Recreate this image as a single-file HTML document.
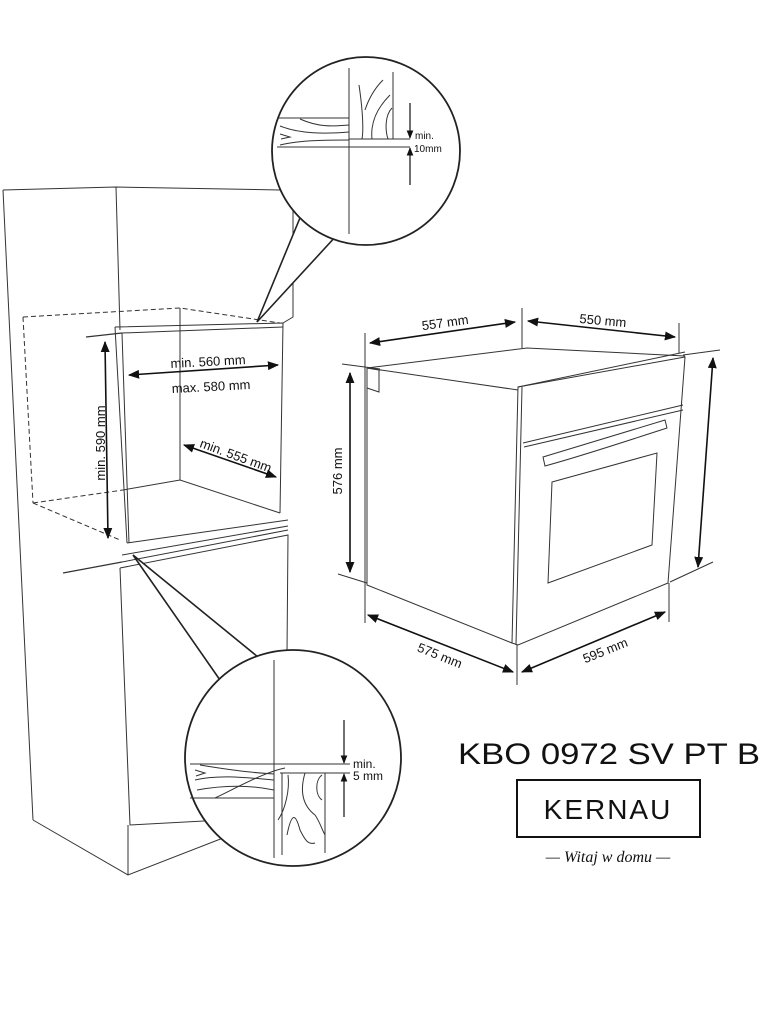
<!DOCTYPE html>
<html><head><meta charset="utf-8"><style>
html,body{margin:0;padding:0;background:#fff}
svg{display:block}
text{font-family:"Liberation Sans",sans-serif;fill:#111}
</style></head><body>
<svg width="762" height="1009" viewBox="0 0 762 1009" xmlns="http://www.w3.org/2000/svg">
<defs>
<marker id="a" viewBox="0 0 10 10" refX="9" refY="5" markerWidth="7" markerHeight="7" orient="auto-start-reverse"><path d="M0,1 L10,5 L0,9 z" fill="#111"/></marker>
</defs>
<g fill="none" stroke="#333" stroke-width="1">
<polyline points="3,190 116,187 280,190"/>
<line x1="3" y1="190" x2="33" y2="820"/>
<line x1="116" y1="187" x2="120" y2="330"/>
<polyline points="33,820 128,875 277,817"/>
<line x1="128" y1="875" x2="128" y2="825"/>
<polyline points="280,190 293,207 293,317 283,323"/>
<g stroke-dasharray="5,3">
<polyline points="23,317 180,308 280,323"/>
<line x1="23" y1="317" x2="33" y2="503"/>
<line x1="33" y1="503" x2="123" y2="490"/>
<line x1="33" y1="503" x2="120" y2="540"/>
</g>
<line x1="180" y1="308" x2="180" y2="480"/>
<polyline points="115,327 283,323 280,513"/>
<line x1="122" y1="333" x2="283" y2="327"/>
<line x1="115" y1="327" x2="127" y2="543"/>
<line x1="122" y1="333" x2="129" y2="543"/>
<polyline points="123,490 180,480 280,513"/>
<line x1="127" y1="543" x2="288" y2="520"/>
<line x1="122" y1="555" x2="288" y2="526"/>
<line x1="122" y1="562" x2="288" y2="530"/>
<polyline points="120,568 288,535 287,653"/>
<polyline points="120,568 130,825 277,817"/>
<line x1="63" y1="573" x2="122" y2="562" stroke-width="1.3"/>
<line x1="86" y1="337" x2="122" y2="333" stroke-width="1.3"/>
</g>
<g stroke="#111" stroke-width="1.6" fill="none">
<line x1="105" y1="342" x2="108" y2="538" marker-start="url(#a)" marker-end="url(#a)"/>
<line x1="129" y1="375" x2="278" y2="365" marker-start="url(#a)" marker-end="url(#a)"/>
<line x1="184" y1="445" x2="276" y2="477" marker-start="url(#a)" marker-end="url(#a)"/>
</g>
<text x="100" y="448" font-size="13" text-anchor="middle" transform="rotate(-90 100 443)">min. 590 mm</text>
<text x="208" y="366" font-size="13" text-anchor="middle" transform="rotate(-3 208 361)">min. 560 mm</text>
<text x="211" y="391" font-size="13" text-anchor="middle" transform="rotate(-3 211 386)">max. 580 mm</text>
<text x="236" y="460" font-size="13" text-anchor="middle" transform="rotate(20 236 455)">min. 555 mm</text>

<path d="M302,213 L257,322 L337,235" fill="#fff" stroke="#222" stroke-width="1.6"/>
<circle cx="366" cy="151" r="94" fill="#fff" stroke="#222" stroke-width="1.8"/>
<g fill="none" stroke="#333" stroke-width="1">
<line x1="349" y1="68" x2="349" y2="234"/>
<line x1="393" y1="72" x2="393" y2="139"/>
<line x1="349" y1="139" x2="410" y2="139"/>
<line x1="277" y1="147" x2="410" y2="147"/>
<line x1="279" y1="118" x2="349" y2="118"/>
<path d="M300,119 C320,128 335,126 349,125"/><path d="M280,126 C300,134 325,134 349,132"/>
<path d="M280,145 C300,140 330,140 349,140"/><path d="M280,134 L290,137 L281,139"/>
<path d="M359,85 C362,105 364,128 362,139"/><path d="M365,110 C370,95 378,85 383,80"/>
<path d="M372,139 C370,120 380,105 390,95"/><path d="M392,108 C385,115 385,130 388,139"/>
</g>
<g stroke="#111" stroke-width="1.2">
<line x1="410" y1="103" x2="410" y2="138" marker-end="url(#a)"/>
<line x1="410" y1="185" x2="410" y2="148" marker-end="url(#a)"/>
</g>
<text x="415" y="139" font-size="10">min.</text>
<text x="414" y="152" font-size="10">10mm</text>

<path d="M220,680 L133,555 L258,657" fill="#fff" stroke="#222" stroke-width="1.6"/>
<circle cx="293" cy="758" r="108" fill="#fff" stroke="#222" stroke-width="1.8"/>
<g fill="none" stroke="#333" stroke-width="1">
<line x1="274" y1="660" x2="274" y2="858"/>
<line x1="190" y1="764" x2="350" y2="764"/>
<line x1="280" y1="773" x2="350" y2="773"/>
<line x1="282" y1="773" x2="282" y2="855"/>
<line x1="325" y1="773" x2="325" y2="853"/>
<line x1="190" y1="798" x2="274" y2="798"/>
<path d="M200,765 C230,770 255,773 274,774"/><path d="M195,780 C220,774 250,778 274,780"/>
<path d="M197,790 C230,784 255,786 274,790"/><path d="M215,798 C240,786 265,772 285,768"/>
<path d="M195,770 L205,773 L196,776"/>
<path d="M288,775 C290,790 285,810 278,820"/><path d="M287,835 C292,810 296,815 300,830 C305,840 308,845 315,843"/>
<path d="M305,773 C300,790 302,805 315,815 C320,822 322,830 325,835"/><path d="M322,775 C315,780 315,795 322,800"/>
</g>
<g stroke="#111" stroke-width="1.2">
<line x1="344" y1="720" x2="344" y2="763" marker-end="url(#a)"/>
<line x1="344" y1="817" x2="344" y2="774" marker-end="url(#a)"/>
</g>
<text x="353" y="768" font-size="12">min.</text>
<text x="353" y="780" font-size="12">5  mm</text>

<g fill="none" stroke="#333" stroke-width="1">
<polyline points="367,368 527,348 685,356"/>
<line x1="367" y1="368" x2="518" y2="390"/>
<polyline points="367,368 367,585 512,643"/>
<polygon points="518,387 685,357 668,583 518,645 512,643"/>
<line x1="522" y1="387" x2="516" y2="645"/>
<line x1="523" y1="443" x2="683" y2="405"/>
<line x1="524" y1="447" x2="683" y2="410"/>
<path d="M543,457 L665,420 L667,428 C630,440 585,455 545,466 Z"/>
<polygon points="552,482 657,453 652,545 548,583"/>
<polyline points="367,368 379,370 379,392 367,388"/>
<line x1="518" y1="387" x2="685" y2="352"/>
<line x1="365" y1="333" x2="365" y2="623"/>
<line x1="522" y1="308" x2="522" y2="348"/>
<line x1="679" y1="323" x2="679" y2="353"/>
<line x1="517" y1="645" x2="517" y2="685"/>
<line x1="669" y1="583" x2="669" y2="622"/>
<line x1="342" y1="364" x2="380" y2="369"/>
<line x1="683" y1="355" x2="720" y2="350"/>
<line x1="338" y1="574" x2="367" y2="583"/>
<line x1="670" y1="582" x2="713" y2="562"/>
</g>
<g stroke="#111" stroke-width="1.6">
<line x1="370" y1="343" x2="515" y2="322" marker-start="url(#a)" marker-end="url(#a)"/>
<line x1="528" y1="321" x2="675" y2="337" marker-start="url(#a)" marker-end="url(#a)"/>
<line x1="350" y1="373" x2="350" y2="572" marker-start="url(#a)" marker-end="url(#a)"/>
<line x1="713" y1="358" x2="698" y2="567" marker-start="url(#a)" marker-end="url(#a)"/>
<line x1="368" y1="615" x2="513" y2="672" marker-start="url(#a)" marker-end="url(#a)"/>
<line x1="522" y1="672" x2="665" y2="612" marker-start="url(#a)" marker-end="url(#a)"/>
</g>
<text x="445" y="327" font-size="13" text-anchor="middle" transform="rotate(-8 445 322)">557 mm</text>
<text x="603" y="325" font-size="13" text-anchor="middle" transform="rotate(5 603 320)">550 mm</text>
<text x="346" y="475" font-size="13" text-anchor="middle" transform="rotate(-90 342 475)">576 mm</text>
<text x="440" y="660" font-size="13" text-anchor="middle" transform="rotate(22 440 655)">575 mm</text>
<text x="605" y="655" font-size="13" text-anchor="middle" transform="rotate(-22 605 650)">595 mm</text>

<text x="458" y="764" font-size="30" textLength="302" lengthAdjust="spacingAndGlyphs">KBO 0972 SV PT B</text>
<rect x="517" y="780" width="183" height="57" fill="none" stroke="#111" stroke-width="2"/>
<text x="608" y="819" font-size="28" text-anchor="middle" letter-spacing="2">KERNAU</text>
<text x="608" y="862" font-size="16" text-anchor="middle" font-style="italic" style="font-family:'Liberation Serif',serif">— Witaj w domu —</text>
</svg>
</body></html>
